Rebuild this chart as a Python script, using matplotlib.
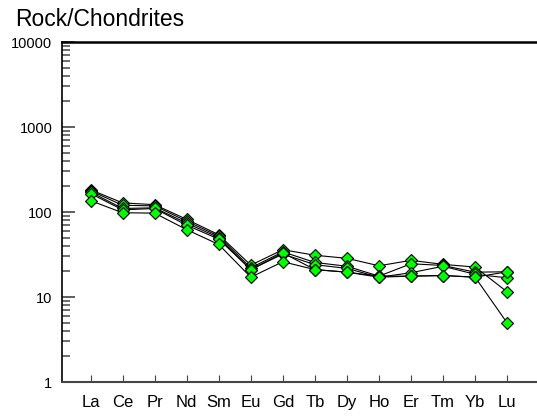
import matplotlib
matplotlib.use("Agg")
import matplotlib.pyplot as plt
from matplotlib.ticker import LogLocator, NullFormatter, FixedLocator

plt.rcParams['font.family'] = ['Liberation Sans', 'DejaVu Sans']

elements = ["La", "Ce", "Pr", "Nd", "Sm", "Eu", "Gd", "Tb", "Dy", "Ho", "Er", "Tm", "Yb", "Lu"]

sample_1 = [183, 128, 122, 82, 54, 23.7, 36, 31, 28.5, 23.3, 27, 24.2, 22.5, 11.5]
sample_2 = [178, 120, 118, 78, 52, 22, 34, 25.5, 23, 17.6, 24.6, 23.5, 19.6, 19.8]
sample_3 = [172, 110, 112, 74, 50, 21, 32, 24, 21.7, 17.1, 19.3, 23, 18.5, 16.8]
sample_4 = [165, 106, 110, 70, 48, 21, 33, 21, 19.6, 17.6, 17.6, 17.9, 17.1, 4.95]
sample_5 = [136, 98, 97, 62, 41.5, 17.1, 26, 21, 19.6, 17.1, 17.6, 17.9, 17.1, 19.8]
samples = [sample_1, sample_2, sample_3, sample_4, sample_5]

ytick_values = [1, 10, 100, 1000, 10000]
ytick_labels = ["1", "10", "100", "1000", "10000"]

fig = plt.figure(figsize=(5.37, 4.19), dpi=100)
ax = fig.add_axes([62/537, 37/419, (536-62)/537, (382-42)/419])

x = list(range(len(elements)))
for s in samples:
    ax.plot(x, s, color='black', lw=0.8, marker='D', markersize=6.5,
            markerfacecolor='#00ff00', markeredgecolor='black', markeredgewidth=0.8,
            zorder=3)

ax.set_yscale('log')
ax.set_ylim(1, 10000)
ax.set_xlim(-0.89, 13.9)
ax.yaxis.set_major_locator(FixedLocator(ytick_values))
ax.set_yticklabels(ytick_labels)
ax.yaxis.set_minor_locator(LogLocator(base=10, subs=range(2, 10)))
ax.yaxis.set_minor_formatter(NullFormatter())
ax.set_xticks(x)
ax.set_xticklabels(elements)

ax.tick_params(axis='y', which='major', direction='in', length=9, width=1.2, labelsize=10.5, pad=7, color='#444444')
ax.tick_params(axis='y', which='minor', direction='in', length=6, width=1.2, color='#555555')
ax.tick_params(axis='x', which='major', direction='in', length=5, width=0.8, labelsize=12, pad=9, color='#444444')

ax.spines['right'].set_visible(False)
ax.spines['top'].set_linewidth(1.8)
ax.spines['left'].set_linewidth(1.2)
ax.spines['bottom'].set_linewidth(1.5)
ax.spines['bottom'].set_color('#444444')

fig.text(15/537, 1 - 20/419, "Rock/Chondrites", fontsize=16.5, ha='left', va='center')

fig.savefig("out.png", dpi=100)
